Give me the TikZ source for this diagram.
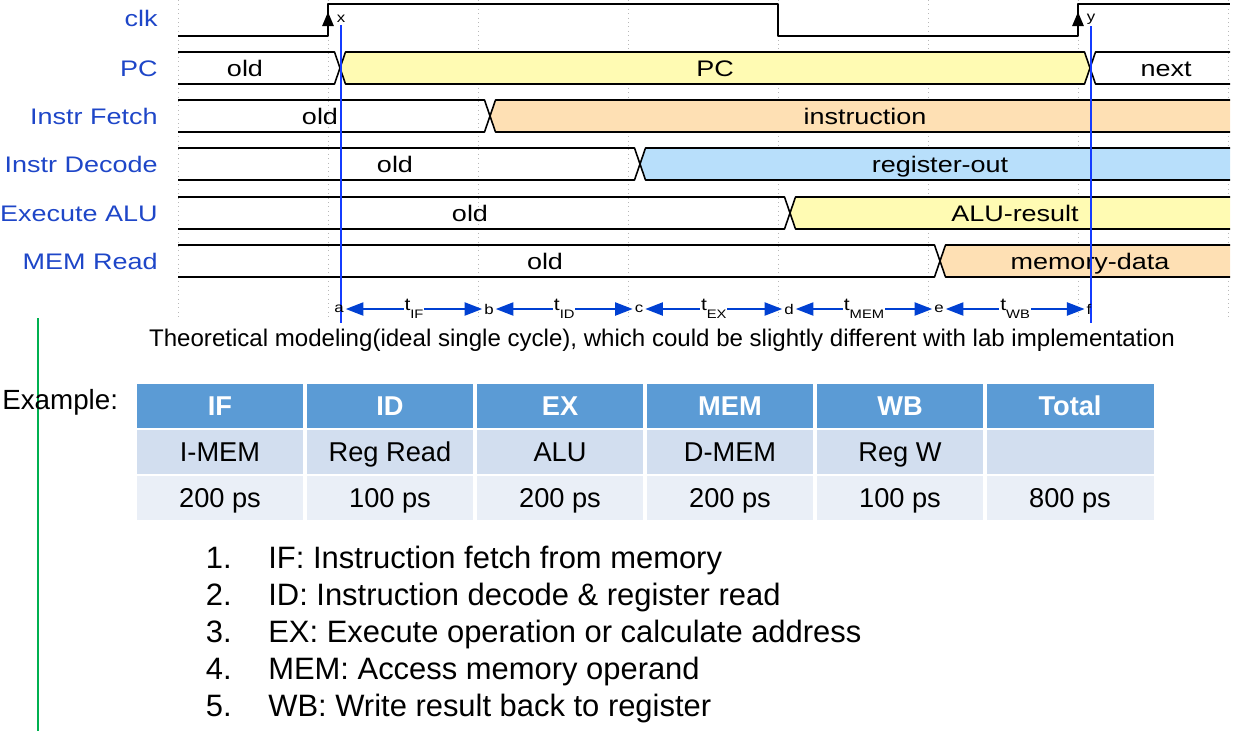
\documentclass[tikz,border=0pt]{standalone}
\usepackage{fontspec}
\setmainfont{Liberation Sans}
\newfontfamily\wavefont[FakeStretch=1.2]{Liberation Sans}
\usetikzlibrary{arrows.meta}
\definecolor{lblblue}{RGB}{30,70,200}
\definecolor{pcyellow}{RGB}{255,251,179}
\definecolor{instrorange}{RGB}{254,224,180}
\definecolor{regblue}{RGB}{184,223,251}
\definecolor{markblue}{RGB}{20,60,255}
\definecolor{arrowblue}{RGB}{0,64,210}
\definecolor{hdrblue}{RGB}{91,155,213}
\definecolor{rowa}{RGB}{210,222,239}
\definecolor{rowb}{RGB}{234,239,247}
\definecolor{bargreen}{RGB}{0,176,80}
\begin{document}
\begin{tikzpicture}[x=0.02cm,y=-0.02cm,
    wave/.style={line width=0.9pt,line join=round},
    grid line/.style={draw=gray!55,dotted,line width=0.5pt},
    sig label/.style={anchor=east,inner sep=0pt,text=lblblue,text height=9.15pt,text depth=0pt,font=\wavefont\fontsize{12.8}{14}\selectfont},
    val/.style={inner sep=0pt,text height=9.15pt,text depth=0pt,font=\wavefont\fontsize{12.8}{14}\selectfont},
    tick/.style={inner sep=1pt,font=\wavefont\fontsize{8}{9}\selectfont},
    edge tip/.style={-{Triangle[length=8pt,width=6.5pt]},line width=0.9pt},
    stage/.style={{Triangle[length=10pt,width=7.5pt]}-{Triangle[length=10pt,width=7.5pt]},draw=arrowblue,fill=arrowblue,line width=0.9pt},
    stage label/.style={fill=white,inner sep=0.5pt,font=\wavefont\fontsize{10}{11}\selectfont},
    marker/.style={draw=markblue,line width=1pt},
    cell/.style={minimum width=3.34cm,minimum height=0.88cm,inner sep=0pt,text height=11.1pt,text depth=0pt,font=\fontsize{15.5}{18}\selectfont},
    head cell/.style={cell,fill=hdrblue,text=white,font=\bfseries\fontsize{15.5}{18}\selectfont},
    unit cell/.style={cell,fill=rowa},
    time cell/.style={cell,fill=rowb},
    item num/.style={anchor=east,inner sep=0pt,text height=12.6pt,text depth=0pt,font=\fontsize{17.6}{20}\selectfont},
    item/.style={anchor=west,inner sep=0pt,text height=12.6pt,text depth=0pt,font=\fontsize{17.6}{20}\selectfont}]
    \useasboundingbox (0,0) rectangle (1240,731);
    % grid
    \draw [grid line] (178,0) -- (178,318) (328,0) -- (328,318) (478,0) -- (478,318)
        (628,0) -- (628,318) (778,0) -- (778,318) (928,0) -- (928,318)
        (1078,0) -- (1078,318) (1228,0) -- (1228,318);
    % signal names
    \node at (158,18) [sig label] (nclk) {clk};
    \node at (158,68) [sig label] (npc) {PC};
    \node at (158,116) [sig label] (nif) {Instr Fetch};
    \node at (158,164) [sig label] (nid) {Instr Decode};
    \node at (158,213) [sig label] (nex) {Execute ALU};
    \node at (158,261) [sig label] (nmem) {MEM Read};
    % clock
    \draw [wave] (178,36) -- (328,36) -- (328,4) -- (778,4) -- (778,36) -- (1078,36) -- (1078,4) -- (1230,4);
    \draw [edge tip] (328,30) -- (328,12);
    \draw [edge tip] (1078,30) -- (1078,12);
    % PC
    \fill [pcyellow] (340,68) -- (345.5,52) -- (1084.5,52) -- (1090,68) -- (1084.5,84) -- (345.5,84) -- cycle;
    \draw [wave] (178,52) -- (334.5,52) -- (345.5,84) -- (1084.5,84) -- (1095.5,52) -- (1230,52);
    \draw [wave] (178,84) -- (334.5,84) -- (345.5,52) -- (1084.5,52) -- (1095.5,84) -- (1230,84);
    \node at (245,68) [val] (pcold) {old};
    \node at (715,68) [val] (pcnew) {PC};
    \node at (1166,68) [val] (pcnext) {next};
    % instr fetch
    \fill [instrorange] (490,116) -- (495.5,100) -- (1230,100) -- (1230,132) -- (495.5,132) -- cycle;
    \draw [wave] (178,100) -- (484.5,100) -- (495.5,132) -- (1230,132);
    \draw [wave] (178,132) -- (484.5,132) -- (495.5,100) -- (1230,100);
    \node at (320,116) [val] (ifold) {old};
    \node at (865,116) [val] (ifnew) {instruction};
    % instr decode
    \fill [regblue] (640,164) -- (645.5,148) -- (1230,148) -- (1230,180) -- (645.5,180) -- cycle;
    \draw [wave] (178,148) -- (634.5,148) -- (645.5,180) -- (1230,180);
    \draw [wave] (178,180) -- (634.5,180) -- (645.5,148) -- (1230,148);
    \node at (395,164) [val] (idold) {old};
    \node at (940,164) [val] (idnew) {register-out};
    % execute
    \fill [pcyellow] (790,213) -- (795.5,197) -- (1230,197) -- (1230,229) -- (795.5,229) -- cycle;
    \draw [wave] (178,197) -- (784.5,197) -- (795.5,229) -- (1230,229);
    \draw [wave] (178,229) -- (784.5,229) -- (795.5,197) -- (1230,197);
    \node at (470,213) [val] (exold) {old};
    \node at (1015,213) [val] (exnew) {ALU-result};
    % mem read
    \fill [instrorange] (940,261) -- (945.5,245) -- (1230,245) -- (1230,277) -- (945.5,277) -- cycle;
    \draw [wave] (178,245) -- (934.5,245) -- (945.5,277) -- (1230,277);
    \draw [wave] (178,277) -- (934.5,277) -- (945.5,245) -- (1230,245);
    \node at (545,261) [val] (memold) {old};
    \node at (1090,261) [val] (memnew) {memory-data};
    % markers
    \node at (341,19) [tick] (mx) {x};
    \node at (1091,19) [tick] (my) {y};
    \coordinate (mxb) at (341,323);
    \coordinate (myb) at (1091,323);
    \draw [marker] (mx.south) -- (mxb);
    \draw [marker] (my.south) -- (myb);
    % stage times
    \node at (339,309) [tick] (ea) {a};
    \node at (489,309) [tick] (eb) {b};
    \node at (639,309) [tick] (ec) {c};
    \node at (789,309) [tick] (ed) {d};
    \node at (939,309) [tick] (ee) {e};
    \node at (1089,309) [tick] (ef) {f};
    \draw [stage] (ea) -- node [stage label] (tif) {t\raisebox{-0.8ex}{\fontsize{7}{8}\selectfont IF}} (eb);
    \draw [stage] (eb) -- node [stage label] (tid) {t\raisebox{-0.8ex}{\fontsize{7}{8}\selectfont ID}} (ec);
    \draw [stage] (ec) -- node [stage label] (tex) {t\raisebox{-0.8ex}{\fontsize{7}{8}\selectfont EX}} (ed);
    \draw [stage] (ed) -- node [stage label] (tmem) {t\raisebox{-0.8ex}{\fontsize{7}{8}\selectfont MEM}} (ee);
    \draw [stage] (ee) -- node [stage label] (twb) {t\raisebox{-0.8ex}{\fontsize{7}{8}\selectfont WB}} (ef);
    \node at (662,338) [inner sep=0pt,text height=9.8pt,text depth=0pt,font=\fontsize{13.7}{15}\selectfont] (caption) {Theoretical modeling(ideal single cycle), which could be slightly different with lab implementation};
    % example table
    \draw [bargreen,line width=1pt] (38,318) -- (38,731);
    \node at (2,400) [anchor=west,inner sep=0pt,text height=11.3pt,text depth=0pt,font=\fontsize{15.8}{18}\selectfont] (example) {Example:};
    \node at (220,406) [head cell] (h1) {IF};
    \node at (390,406) [head cell] (h2) {ID};
    \node at (560,406) [head cell] (h3) {EX};
    \node at (730,406) [head cell] (h4) {MEM};
    \node at (900,406) [head cell] (h5) {WB};
    \node at (1070,406) [head cell] (h6) {Total};
    \node at (220,452) [unit cell] (u1) {I-MEM};
    \node at (390,452) [unit cell] (u2) {Reg Read};
    \node at (560,452) [unit cell] (u3) {ALU};
    \node at (730,452) [unit cell] (u4) {D-MEM};
    \node at (900,452) [unit cell] (u5) {Reg W};
    \node at (1070,452) [unit cell] (u6) {};
    \node at (220,498) [time cell] (p1) {200 ps};
    \node at (390,498) [time cell] (p2) {100 ps};
    \node at (560,498) [time cell] (p3) {200 ps};
    \node at (730,498) [time cell] (p4) {200 ps};
    \node at (900,498) [time cell] (p5) {100 ps};
    \node at (1070,498) [time cell] (p6) {800 ps};
    % stage list
    \node at (232,557) [item num] (k1) {1.};
    \node at (268,557) [item] (s1) {IF: Instruction fetch from memory};
    \node at (232,594) [item num] (k2) {2.};
    \node at (268,594) [item] (s2) {ID: Instruction decode \& register read};
    \node at (232,631) [item num] (k3) {3.};
    \node at (268,631) [item] (s3) {EX: Execute operation or calculate address};
    \node at (232,668) [item num] (k4) {4.};
    \node at (268,668) [item] (s4) {MEM: Access memory operand};
    \node at (232,705) [item num] (k5) {5.};
    \node at (268,705) [item] (s5) {WB: Write result back to register};
\end{tikzpicture}
\end{document}
